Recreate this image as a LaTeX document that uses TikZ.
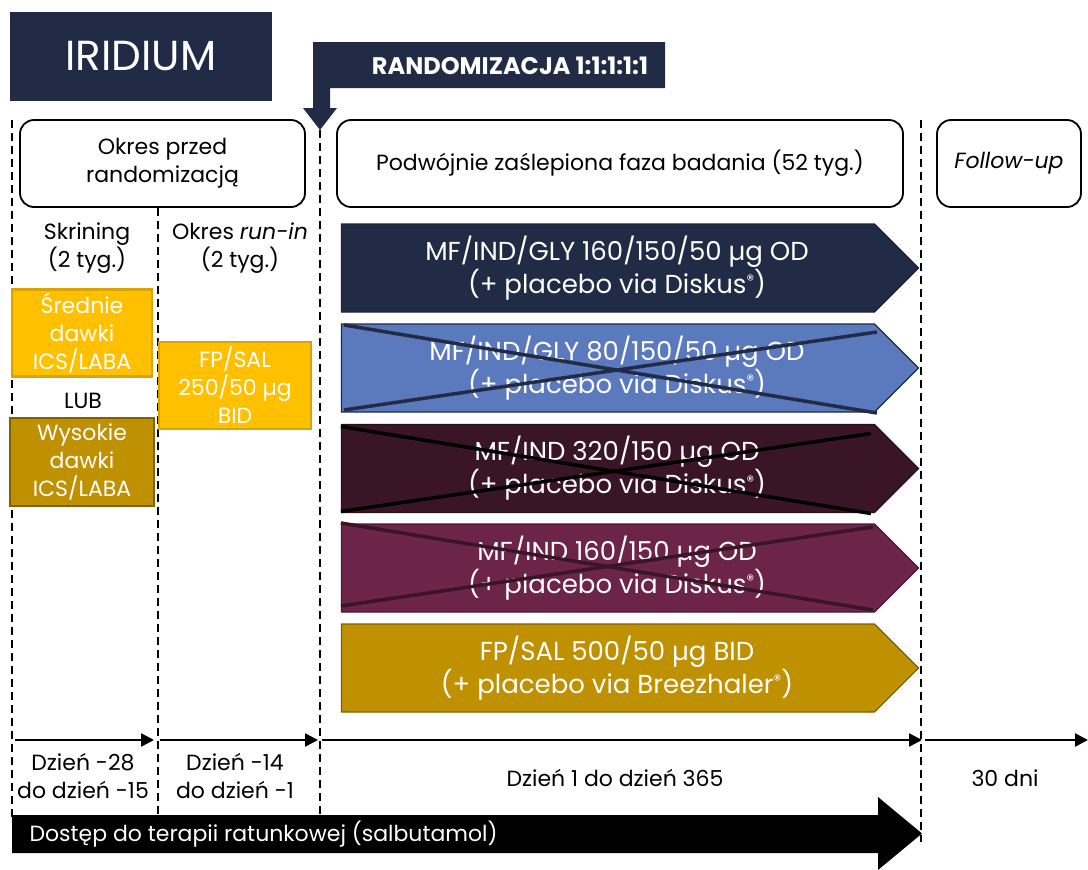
\documentclass[tikz,border=0pt]{standalone}
\usepackage{fontspec}
\setmainfont{Poppins}
\usepackage{tikz}
\usetikzlibrary{positioning, calc}
\usetikzlibrary{arrows.meta, shapes.symbols}
\definecolor{navy}{HTML}{222B46}
\definecolor{armblue}{HTML}{5B79BD}
\definecolor{maroon}{HTML}{3A1526}
\definecolor{plum}{HTML}{6C2449}
\definecolor{gold}{HTML}{BF9000}
\definecolor{darkgold}{HTML}{7F6000}
\definecolor{amber}{HTML}{FFC000}
\definecolor{amberline}{HTML}{D9A300}
\newcommand\armfont{\fontsize{26}{33}\selectfont}
\newcommand\midfont{\fontsize{22}{28}\selectfont}
\newcommand\regmark{\raisebox{0.55ex}{\fontsize{15}{15}\selectfont ®}}
\tikzstyle{phasebox}=[rectangle,rounded corners=14pt,draw=black,line width=1.8pt,align=center,font=\midfont]
\tikzstyle{dosebox}=[rectangle,line width=2.5pt,text=white,align=center,font=\midfont]
\tikzstyle{armarrow}=[signal,signal to=east,signal pointer angle=90,minimum width=577pt,minimum height=88pt,
    text=white,align=center,line width=1.2pt,font=\armfont,inner xsep=0pt]
\tikzstyle{crossline}=[line width=3.5pt]
\tikzstyle{divider}=[line width=1.6pt,dash pattern=on 8pt off 5pt]
\tikzstyle{timearrow}=[-{Triangle[length=13pt,width=13pt]},line width=2.5pt]
\tikzstyle{label}=[align=center,font=\midfont]

\begin{document}
\begin{tikzpicture}[x=1pt,y=-1pt]
        \useasboundingbox (0,0) rectangle (1088,870);

        % title and randomisation banner
        \node[fill=navy,minimum width=262pt,minimum height=89pt,text=white,
            font=\fontsize{42}{42}\selectfont] (title) at (141,56.5) {IRIDIUM};
        \fill[navy] (313,42) -- (665,42) -- (665,88) -- (330,88) -- (330,108) -- (337,108)
            -- (320,130) -- (303,108) -- (313,108) -- cycle;
        \node[text=white,font=\fontsize{24}{24}\selectfont\bfseries] (rand) at (510,66) {RANDOMIZACJA 1:1:1:1:1};

        % phases
        \node[phasebox,minimum width=285pt,minimum height=87pt] (pre) at (162.5,163.5) {Okres przed\\randomizacją};
        \node[phasebox,minimum width=566pt,minimum height=87pt] (main) at (620,163.5) {Podwójnie zaślepiona faza badania (52 tyg.)};
        \node[phasebox,minimum width=144pt,minimum height=87pt,font=\midfont\itshape] (fu) at (1009,163.5) {Follow-up};

        \draw[divider] (12,120) -- (12,822);
        \draw[divider] (pre.south) ++(-4.5,0) -- (158,822);
        \draw[divider] (320,130) -- (320,822);
        \draw[divider] (921,120) -- (921,842);

        % pre-randomisation
        \node[label] (skr) at (87,248) {Skrining\\(2 tyg.)};
        \node[label] (runlab) at (240,248) {Okres \textit{run-in}\\(2 tyg.)};
        \node[dosebox,fill=amber,draw=amberline,minimum width=140pt,minimum height=86pt] (med) at (82,333) {Średnie\\dawki\\ICS/LABA};
        \node[label] (lub) at (83,401) {LUB};
        \node[dosebox,fill=gold,draw=darkgold,minimum width=144pt,minimum height=88pt] (high) at (82,462) {Wysokie\\dawki\\ICS/LABA};
        \node[dosebox,fill=amber,draw=amberline,minimum width=152pt,minimum height=87pt] (runin) at (235,385.5) {FP/SAL\\250/50 µg\\BID};

        % treatment arms
        \node[armarrow,fill=navy,draw=navy!80!black] (arm1) at (608,268) {\hspace*{18pt}MF/IND/GLY 160/150/50 µg OD\\\hspace*{18pt}(+ placebo via Diskus\regmark)};
        \node[armarrow,fill=armblue,draw=navy] (arm2) at (608,368) {\hspace*{18pt}MF/IND/GLY 80/150/50 µg OD\\\hspace*{18pt}(+ placebo via Diskus\regmark)};
        \node[armarrow,fill=maroon,draw=maroon!70!black] (arm3) at (608,468.5) {\hspace*{18pt}MF/IND 320/150 µg OD\\\hspace*{18pt}(+ placebo via Diskus\regmark)};
        \node[armarrow,fill=plum,draw=plum!70!black] (arm4) at (608,568) {\hspace*{18pt}MF/IND 160/150 µg OD\\\hspace*{18pt}(+ placebo via Diskus\regmark)};
        \node[armarrow,fill=gold,draw=darkgold] (arm5) at (608,668) {\hspace*{18pt}FP/SAL 500/50 µg BID\\\hspace*{18pt}(+ placebo via Breezhaler\regmark)};

        \draw[crossline,navy] ($(arm2.west)+(3,-43)$) -- ($(arm2.west)+(536,45)$);
        \draw[crossline,navy] ($(arm2.west)+(3,42)$) -- ($(arm2.west)+(536,-36)$);
        \draw[crossline,black] ($(arm3.west)+(0,-42)$) -- ($(arm3.west)+(530,45)$);
        \draw[crossline,black] ($(arm3.west)+(0,43)$) -- ($(arm3.west)+(530,-35)$);
        \draw[crossline,maroon] ($(arm4.west)+(0,-45)$) -- ($(arm4.west)+(532,42)$);
        \draw[crossline,maroon] ($(arm4.west)+(0,38)$) -- ($(arm4.west)+(532,-41)$);

        % time line
        \coordinate (t0) at (15,740);
        \coordinate (t1) at (154,740);
        \coordinate (t2) at (160,740);
        \coordinate (t3) at (318,740);
        \coordinate (t4) at (322,740);
        \coordinate (t5) at (922,740);
        \coordinate (t6) at (925,740);
        \coordinate (t7) at (1088,740);
        \draw[timearrow] (t0) -- (t1);
        \draw[timearrow] (t2) -- (t3);
        \draw[timearrow] (t4) -- (t5);
        \draw[timearrow] (t6) -- (t7);

        \node[label] (d1) at (83,776) {Dzień -28\\do dzień -15};
        \node[label] (d2) at (235,776) {Dzień -14\\do dzień -1};
        \node[label] (d3) at (615,778) {Dzień 1 do dzień 365};
        \node[label] (d4) at (1005,778) {30 dni};

        % rescue medication
        \fill[black] (12,815) -- (878,815) -- (878,797) -- (922,833.5) -- (878,870) -- (878,853)
            -- (12,853) -- cycle;
        \node[label,text=white,anchor=west] (rescue) at (26,834) {Dostęp do terapii ratunkowej (salbutamol)};
    \end{tikzpicture}
\end{document}
